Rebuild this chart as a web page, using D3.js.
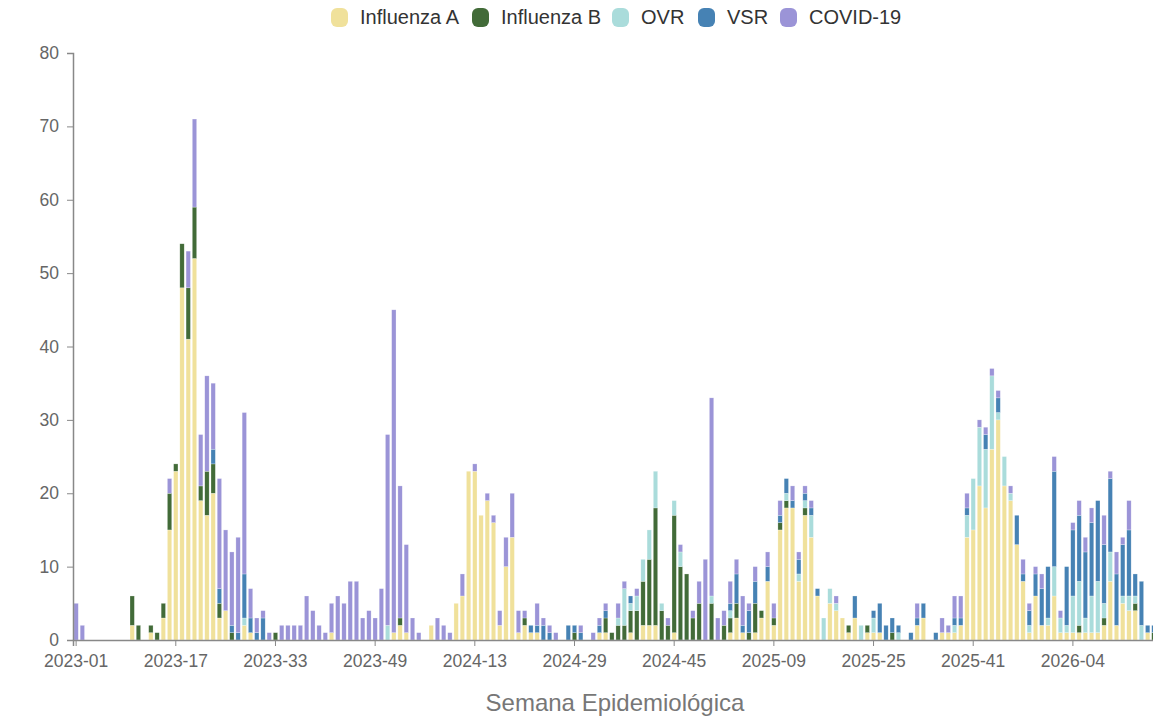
<!DOCTYPE html>
<html>
<head>
<meta charset="utf-8">
<script src="https://cdn.jsdelivr.net/npm/d3@7"></script>
<style>
  body { margin: 0; background: #fff; font-family: "Liberation Sans", Arial, Helvetica, sans-serif; }
  .axis path, .axis line { stroke: #888; }
  .axis text { fill: #666; font-family: "Liberation Sans", Arial, sans-serif; }
</style>
</head>
<body>
<div id="chart"></div>
<script>
// weeks per epidemiological year shown in the chart
var years = [2023, 2024, 2025, 2026];
var weeksInYear = [52, 52, 53, 17];

var seriesNames = ["Influenza A", "Influenza B", "OVR", "VSR", "COVID-19"];
var seriesColors = ["#f0e19b", "#426b38", "#aadcdb", "#4682b4", "#9b94d7"];

var tickLabels = ["2023-01", "2023-17", "2023-33", "2023-49", "2024-13", "2024-29",
  "2024-45", "2025-09", "2025-25", "2025-41", "2026-04"];

var yTicks = [0, 10, 20, 30, 40, 50, 60, 70, 80];

// weekly counts, one value per week starting 2023-01
var fluA = [
  0,0,0,0,0,0,0,0,0,2, 0,0,1,0,3,15,23,48,41,52,
  19,17,20,3,4,0,0,2,1,0, 0,0,0,0,0,0,0,0,0,0,
  0,1,0,0,0,0,0,0,0,0, 0,1,2,1,0,0,0,2,0,0,
  0,5,6,23,23,17,19,16,2,10, 14,1,2,1,1,0,0,0,0,0,
  0,0,0,0,1,1,0,0,0,1, 0,2,2,2,0,0,1,0,0,0,
  0,0,0,0,0,1,3,1,0,1, 3,8,2,15,18,18,8,17,14,6,
  0,5,4,3,1,3,0,1,1,1, 0,0,0,0,0,2,3,0,0,1,
  1,1,2,14,15,21,18,26,30,21, 19,13,8,1,6,2,2,6,1,1,
  1,1,1,1,1,2,8,2,5,4, 4,0,1,0
];
var fluB = [
  0,0,0,0,0,0,0,0,0,4, 2,0,1,1,2,5,1,6,7,7,
  2,6,4,2,0,1,0,0,0,0, 0,0,1,0,0,0,0,0,0,0,
  0,0,0,0,0,0,0,0,0,0, 0,0,1,0,0,0,0,0,0,0,
  0,0,0,0,0,0,0,0,0,0, 0,0,1,0,0,0,0,0,0,0,
  1,0,0,0,0,2,1,2,2,3, 4,6,9,16,4,2,16,10,9,3,
  5,0,5,0,2,2,2,0,1,4, 1,0,1,1,1,0,0,1,0,0,
  0,0,0,0,1,0,0,1,0,0, 0,1,0,0,0,0,0,0,0,0,
  0,0,0,0,0,0,0,0,0,0, 0,0,0,0,0,0,0,0,0,0,
  0,1,0,0,0,1,0,0,0,0, 1,0,0,1
];
var ovr = [
  0,0,0,0,0,0,0,0,0,0, 0,0,0,0,0,0,0,0,0,0,
  0,0,0,0,0,0,0,1,0,0, 0,0,0,0,0,0,0,0,0,0,
  0,0,0,0,0,0,0,0,0,0, 2,0,0,0,0,0,0,0,0,0,
  0,0,0,0,0,0,0,0,0,0, 0,0,0,0,0,0,0,0,0,0,
  0,0,0,0,0,0,0,1,5,1, 2,3,4,5,1,0,2,2,0,0,
  0,0,1,0,0,1,0,0,0,0, 0,0,0,0,1,0,1,1,3,0,
  3,2,1,0,0,0,2,0,2,0, 0,0,1,0,0,0,0,0,0,0,
  0,1,0,3,7,8,8,10,1,4, 1,0,0,1,0,0,1,4,2,1,
  5,6,2,5,7,2,4,0,1,2, 1,2,0,0
];
var vsr = [
  0,0,0,0,0,0,0,0,0,0, 0,0,0,0,0,0,0,0,0,0,
  0,0,2,2,0,1,1,6,2,1, 3,0,0,0,0,0,0,0,0,0,
  0,0,0,0,0,0,0,0,0,0, 0,0,0,0,0,0,0,0,0,0,
  0,0,0,0,0,0,0,0,0,0, 0,0,0,1,1,2,1,0,0,2,
  1,1,0,0,1,1,0,0,0,1, 0,0,0,0,0,0,0,0,0,0,
  0,0,0,0,0,1,4,1,3,3, 0,2,0,1,2,1,2,1,1,1,
  0,0,0,0,0,3,0,0,1,4, 2,2,1,0,1,1,2,0,1,0,
  0,1,1,1,0,0,2,0,2,0, 0,4,1,2,3,5,7,13,0,8,
  9,9,9,10,11,8,10,7,7,9, 3,6,1,1
];
var covid = [
  5,2,0,0,0,0,0,0,0,0, 0,0,0,0,0,2,0,0,5,12,
  7,13,9,15,11,10,13,22,4,2, 1,1,0,2,2,2,2,6,4,2,
  1,4,6,5,8,8,3,4,3,7, 26,44,18,12,3,1,0,0,3,2,
  1,0,3,0,1,0,1,1,2,4, 6,3,1,0,3,1,1,1,0,0,
  0,1,0,1,1,1,0,2,1,0, 1,0,0,0,0,1,0,1,0,1,
  3,11,27,3,2,3,2,4,1,2, 0,2,2,2,0,2,1,1,1,0,
  0,0,1,0,0,0,0,0,0,0, 0,0,0,0,0,2,0,0,0,2,
  1,3,3,2,0,1,1,1,1,0, 1,0,2,1,1,2,0,2,1,0,
  1,2,2,2,0,4,1,3,1,4, 0,0,0,0
];

var weeks = [];
years.forEach(function(y, k) {
  for (var w = 1; w <= weeksInYear[k]; w++) {
    weeks.push(y + "-" + (w < 10 ? "0" + w : w));
  }
});

var rows = weeks.map(function(w, i) {
  return { week: w, "Influenza A": fluA[i], "Influenza B": fluB[i], "OVR": ovr[i], "VSR": vsr[i], "COVID-19": covid[i] };
});

var width = 1153, height = 718;
var margin = { top: 53, left: 73, bottom: 78 };
var plotRight = 1157;

var svg = d3.select("#chart")
  .append("svg")
  .attr("width", width)
  .attr("height", height);

var x = d3.scaleBand()
  .domain(weeks)
  .range([margin.left, plotRight])
  .paddingInner(0.3)
  .paddingOuter(0.15);

var y = d3.scaleLinear()
  .domain([0, 80])
  .range([height - margin.bottom, margin.top]);

var color = d3.scaleOrdinal().domain(seriesNames).range(seriesColors);

var stacked = d3.stack().keys(seriesNames)(rows);

svg.append("g")
  .selectAll("g")
  .data(stacked)
  .enter()
  .append("g")
  .attr("fill", function(d) { return color(d.key); })
  .selectAll("rect")
  .data(function(d) { return d; })
  .enter()
  .append("rect")
  .attr("x", function(d) { return x(d.data.week); })
  .attr("width", x.bandwidth())
  .attr("y", function(d) { return y(d[1]); })
  .attr("height", function(d) { return y(d[0]) - y(d[1]); })
  .attr("stroke", "#fff")
  .attr("stroke-opacity", 0.5)
  .attr("stroke-width", 0.5);

// y axis
svg.append("g")
  .attr("class", "axis")
  .attr("transform", "translate(" + margin.left + ",0)")
  .call(d3.axisLeft(y).tickValues(yTicks).tickSize(6).tickPadding(8))
  .call(function(g) { g.selectAll("text").style("font-size", "17.5px"); })
  .call(function(g) { g.select(".domain").attr("stroke-width", 1.5); });

// x axis
svg.append("g")
  .attr("class", "axis")
  .attr("transform", "translate(0," + y(0) + ")")
  .call(d3.axisBottom(x).tickValues(tickLabels).tickSize(6).tickPadding(9))
  .call(function(g) { g.selectAll("text").style("font-size", "17.5px"); })
  .call(function(g) { g.select(".domain").attr("stroke-width", 1.5); });

svg.append("text")
  .attr("x", (margin.left + plotRight) / 2)
  .attr("y", 711)
  .attr("text-anchor", "middle")
  .style("font-size", "24px")
  .style("fill", "#777")
  .text("Semana Epidemiológica");

// legend
var legendX = [331, 472, 612, 698, 780];
var legend = svg.append("g").attr("class", "legend");
seriesNames.forEach(function(name, k) {
  var item = legend.append("g").attr("transform", "translate(" + legendX[k] + ",8)");
  item.append("rect")
    .attr("width", 17)
    .attr("height", 19)
    .attr("rx", 6)
    .attr("fill", seriesColors[k]);
  item.append("text")
    .attr("x", 29)
    .attr("y", 16)
    .style("font-size", "20px")
    .style("fill", "#333")
    .text(name);
});
</script>
</body>
</html>
